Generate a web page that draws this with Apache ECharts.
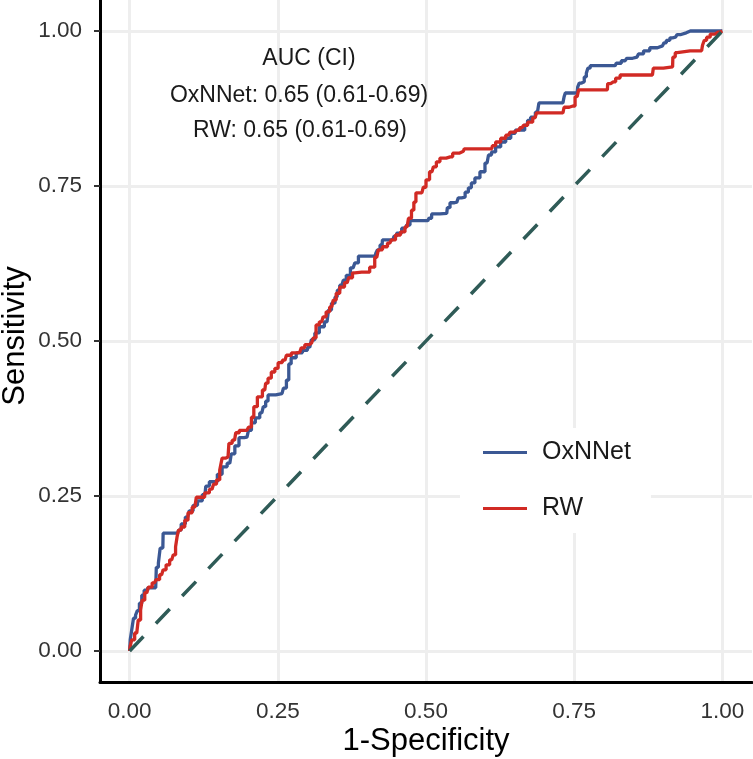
<!DOCTYPE html>
<html><head><meta charset="utf-8">
<script src="https://cdn.jsdelivr.net/npm/echarts@6/dist/echarts.min.js"></script>
<style>html,body{margin:0;padding:0;background:#fff}#c{width:753px;height:759px}</style>
</head><body><div id="c"></div><script>
// OxNNet ROC (1-specificity, sensitivity)
const oxFpr = [0,0.002,0.005,0.008,0.012,0.014,0.019,0.022,0.027,0.034,0.044,0.046,0.051,0.052,0.056,0.057,0.081,0.084,0.090,0.098,0.103,0.111,0.118,0.127,0.130,0.139,0.144,0.152,0.160,0.169,0.174,0.181,0.188,0.198,0.203,0.208,0.216,0.223,0.228,0.231,0.236,0.257,0.262,0.267,0.270,0.275,0.287,0.296,0.304,0.309,0.316,0.324,0.333,0.338,0.343,0.350,0.351,0.358,0.363,0.368,0.377,0.383,0.389,0.414,0.417,0.419,0.426,0.427,0.444,0.448,0.453,0.465,0.470,0.476,0.503,0.507,0.512,0.535,0.537,0.544,0.552,0.557,0.563,0.569,0.574,0.579,0.586,0.596,0.603,0.608,0.613,0.622,0.630,0.639,0.647,0.654,0.662,0.671,0.672,0.681,0.688,0.693,0.731,0.735,0.735,0.755,0.757,0.760,0.765,0.769,0.772,0.774,0.780,0.819,0.823,0.836,0.841,0.856,0.861,0.873,0.882,0.899,0.904,0.907,0.916,0.921,0.926,0.932,0.946,1];
const oxTpr = [0,0.018,0.034,0.053,0.058,0.065,0.077,0.090,0.098,0.102,0.102,0.135,0.142,0.166,0.166,0.190,0.190,0.195,0.205,0.216,0.226,0.235,0.242,0.252,0.266,0.273,0.273,0.285,0.297,0.303,0.318,0.331,0.344,0.345,0.356,0.368,0.376,0.384,0.394,0.403,0.413,0.415,0.424,0.437,0.463,0.473,0.481,0.485,0.490,0.502,0.513,0.523,0.531,0.550,0.561,0.571,0.582,0.590,0.598,0.606,0.618,0.626,0.637,0.637,0.642,0.647,0.655,0.663,0.663,0.669,0.674,0.682,0.687,0.694,0.694,0.698,0.705,0.706,0.715,0.723,0.724,0.731,0.732,0.740,0.747,0.755,0.763,0.773,0.787,0.800,0.805,0.813,0.821,0.827,0.835,0.840,0.840,0.848,0.856,0.861,0.869,0.884,0.884,0.894,0.900,0.900,0.910,0.916,0.918,0.926,0.932,0.940,0.944,0.944,0.948,0.952,0.956,0.958,0.963,0.968,0.973,0.976,0.981,0.985,0.989,0.990,0.994,0.997,1.000,1];
// RW ROC
const rwFpr = [0,0.002,0.005,0.012,0.017,0.020,0.022,0.029,0.034,0.042,0.047,0.054,0.059,0.064,0.071,0.076,0.079,0.081,0.084,0.090,0.096,0.101,0.110,0.115,0.123,0.130,0.139,0.144,0.149,0.155,0.157,0.166,0.169,0.177,0.181,0.189,0.198,0.203,0.208,0.211,0.220,0.228,0.231,0.236,0.242,0.248,0.253,0.262,0.267,0.279,0.287,0.292,0.299,0.307,0.313,0.316,0.324,0.329,0.334,0.341,0.346,0.351,0.358,0.367,0.372,0.380,0.383,0.400,0.410,0.417,0.422,0.431,0.439,0.444,0.453,0.461,0.468,0.473,0.478,0.481,0.485,0.493,0.498,0.502,0.510,0.515,0.520,0.527,0.541,0.549,0.563,0.566,0.611,0.613,0.622,0.630,0.639,0.645,0.654,0.662,0.667,0.676,0.684,0.689,0.731,0.735,0.748,0.755,0.760,0.806,0.807,0.816,0.824,0.831,0.882,0.885,0.916,0.917,0.924,0.926,0.965,0.968,0.971,0.976,0.983,0.992,1];
const rwTpr = [0,0.008,0.018,0.029,0.050,0.066,0.082,0.094,0.103,0.110,0.115,0.123,0.131,0.139,0.147,0.155,0.168,0.184,0.195,0.200,0.211,0.223,0.232,0.248,0.248,0.255,0.261,0.269,0.276,0.292,0.311,0.313,0.335,0.340,0.352,0.356,0.356,0.361,0.377,0.394,0.410,0.421,0.432,0.440,0.450,0.456,0.465,0.469,0.477,0.481,0.482,0.489,0.494,0.497,0.505,0.526,0.531,0.539,0.547,0.555,0.566,0.577,0.587,0.594,0.602,0.610,0.611,0.611,0.619,0.635,0.647,0.652,0.658,0.663,0.671,0.676,0.684,0.698,0.711,0.724,0.739,0.739,0.748,0.760,0.773,0.781,0.789,0.795,0.797,0.803,0.806,0.810,0.810,0.815,0.821,0.827,0.832,0.837,0.840,0.844,0.848,0.853,0.860,0.868,0.868,0.877,0.879,0.894,0.905,0.905,0.915,0.918,0.924,0.929,0.929,0.940,0.942,0.958,0.965,0.968,0.968,0.977,0.985,0.990,0.995,0.998,1];
// chance line
const diagX = [0, 1];
const diagY = [0, 1];
const tickValues = [0, 0.25, 0.5, 0.75, 1];
const seriesNames = ['OxNNet', 'RW'];
const axisTitles = ['1-Specificity', 'Sensitivity'];
const aucLines = ['AUC (CI)', 'OxNNet: 0.65 (0.61-0.69)', 'RW: 0.65 (0.61-0.69)'];

const FONT = "'Liberation Sans', Arial, sans-serif";
const pairs = (xs, ys) => xs.map((x, i) => [x, ys[i]]);

const chart = echarts.init(document.getElementById('c'), null, {renderer: 'canvas'});
const axisCommon = {
  type: 'value', min: -0.05, max: 1.05,
  axisLine: {show: true, onZero: false, lineStyle: {color: '#000', width: 3}},
  splitLine: {show: true, lineStyle: {color: '#EEEEEE', width: 3}}
};
const annot = (text, x, y) => ({type: 'text', z: 100, x: x, y: y,
  style: {text: text, fontSize: 23, fontFamily: FONT, fill: '#1a1a1a', align: 'center', verticalAlign: 'middle'}});
chart.setOption({
  animation: false,
  backgroundColor: '#fff',
  grid: {left: 100, right: 1, top: 0, bottom: 77, outerBoundsMode: 'none', containLabel: false},
  xAxis: Object.assign({}, axisCommon, {
    axisTick: {show: false, customValues: tickValues},
    axisLabel: {customValues: tickValues, formatter: v => v.toFixed(2), fontSize: 22.5, color: '#333', margin: 18, fontFamily: FONT}
  }),
  yAxis: Object.assign({}, axisCommon, {
    axisTick: {show: true, length: 6, customValues: tickValues, lineStyle: {color: '#333', width: 2}},
    axisLabel: {customValues: tickValues, formatter: v => v.toFixed(2), fontSize: 22.5, color: '#333', margin: 18, fontFamily: FONT}
  }),
  legend: {
    orient: 'vertical', left: 460, top: 428,
    padding: [12, 20, 12, 23], backgroundColor: '#fff',
    itemWidth: 44, itemHeight: 3, itemGap: 31, icon: 'rect',
    textStyle: {fontSize: 25, color: '#1a1a1a', fontFamily: FONT, padding: [0, 0, 0, 10]},
    data: seriesNames
  },
  graphic: [
    annot(aucLines[0], 309, 59),
    annot(aucLines[1], 299, 96),
    annot(aucLines[2], 300, 131),
    {type: 'text', z: 100, x: 426, y: 741,
     style: {text: axisTitles[0], fontSize: 31, fontFamily: FONT, fill: '#000', align: 'center', verticalAlign: 'middle'}},
    {type: 'text', z: 100, x: 15, y: 336, rotation: Math.PI / 2,
     style: {text: axisTitles[1], fontSize: 31, fontFamily: FONT, fill: '#000', align: 'center', verticalAlign: 'middle'}}
  ],
  series: [
    {name: seriesNames[0], type: 'line', data: pairs(oxFpr, oxTpr), showSymbol: false, step: 'middle',
     lineStyle: {color: '#3B5894', width: 3.3}, itemStyle: {color: '#3B5894'}},
    {name: seriesNames[1], type: 'line', data: pairs(rwFpr, rwTpr), showSymbol: false, step: 'middle',
     lineStyle: {color: '#D12A24', width: 3.3}, itemStyle: {color: '#D12A24'}},
    {name: 'chance', type: 'line', data: pairs(diagX, diagY), showSymbol: false, silent: true,
     lineStyle: {color: '#2F5B57', width: 3.5, type: [20, 18]}, z: 3}
  ]
});
</script></body></html>
